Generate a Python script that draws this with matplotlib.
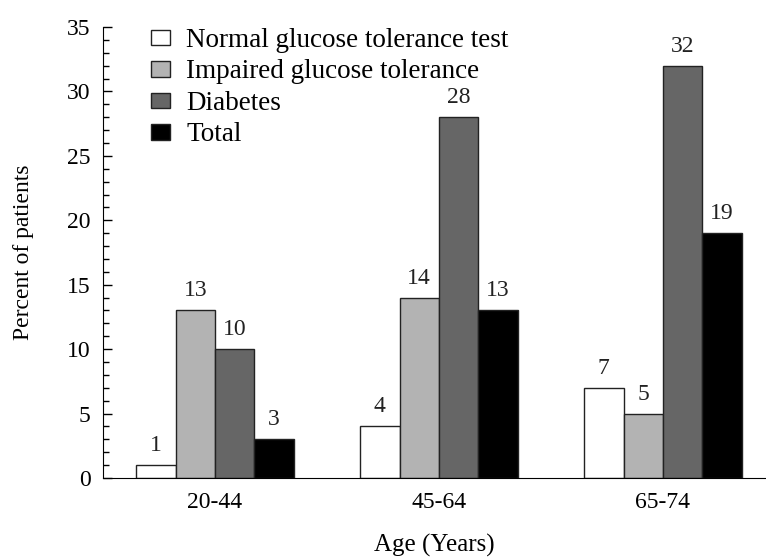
import numpy as np
import matplotlib
matplotlib.use("Agg")
from matplotlib import pyplot as plt
from matplotlib.ticker import MultipleLocator

ages = ["20-44", "45-64", "65-74"]
series = ["Normal glucose tolerance test", "Impaired glucose tolerance", "Diabetes", "Total"]
normal = [1, 4, 7]
impaired = [13, 14, 5]
diabetes = [10, 28, 32]
total = [3, 13, 19]
colors = ["white", "#b3b3b3", "#666666", "black"]

plt.rcParams['font.family'] = ['Liberation Serif', 'DejaVu Serif']

fig = plt.figure(figsize=(7.66, 5.57), dpi=100)
ax = fig.add_axes([103/766, 79/557, 1 - 103/766, 451/557])

x = np.arange(len(ages))
w = 0.176
for i, (vals, c, lab) in enumerate(zip([normal, impaired, diabetes, total], colors, series)):
    pos = x + (i - 1.5) * w
    ax.bar(pos, vals, w, color=c, edgecolor="#222222", linewidth=1, label=lab)
    for p, v in zip(pos, vals):
        ax.text(p, v + 0.7, str(v), ha="center", va="bottom", fontsize=17, color="#222222")

ax.set_xlim(-0.5, 2.46)
ax.set_ylim(0, 35)
ax.yaxis.set_major_locator(MultipleLocator(5))
ax.yaxis.set_minor_locator(MultipleLocator(1))
ax.tick_params(axis="y", which="major", direction="in", length=6.5, width=1, labelsize=17, pad=9)
ax.tick_params(axis="y", which="minor", direction="in", length=4, width=1)
ax.tick_params(axis="x", length=0, labelsize=17, pad=10)
ax.set_xticks(x)
ax.set_xticklabels(ages)
ax.spines["top"].set_visible(False)
ax.spines["right"].set_visible(False)
ax.set_ylabel("Percent of patients", fontsize=17, labelpad=24)
ax.set_xlabel("Age (Years)", fontsize=18, labelpad=15)

ax.legend(loc="upper left", bbox_to_anchor=(0.036, 1.052), frameon=False, fontsize=19.5,
          handlelength=0.7, handleheight=0.5, handletextpad=0.6, labelspacing=0.24)

fig.savefig("out.png", dpi=100)
